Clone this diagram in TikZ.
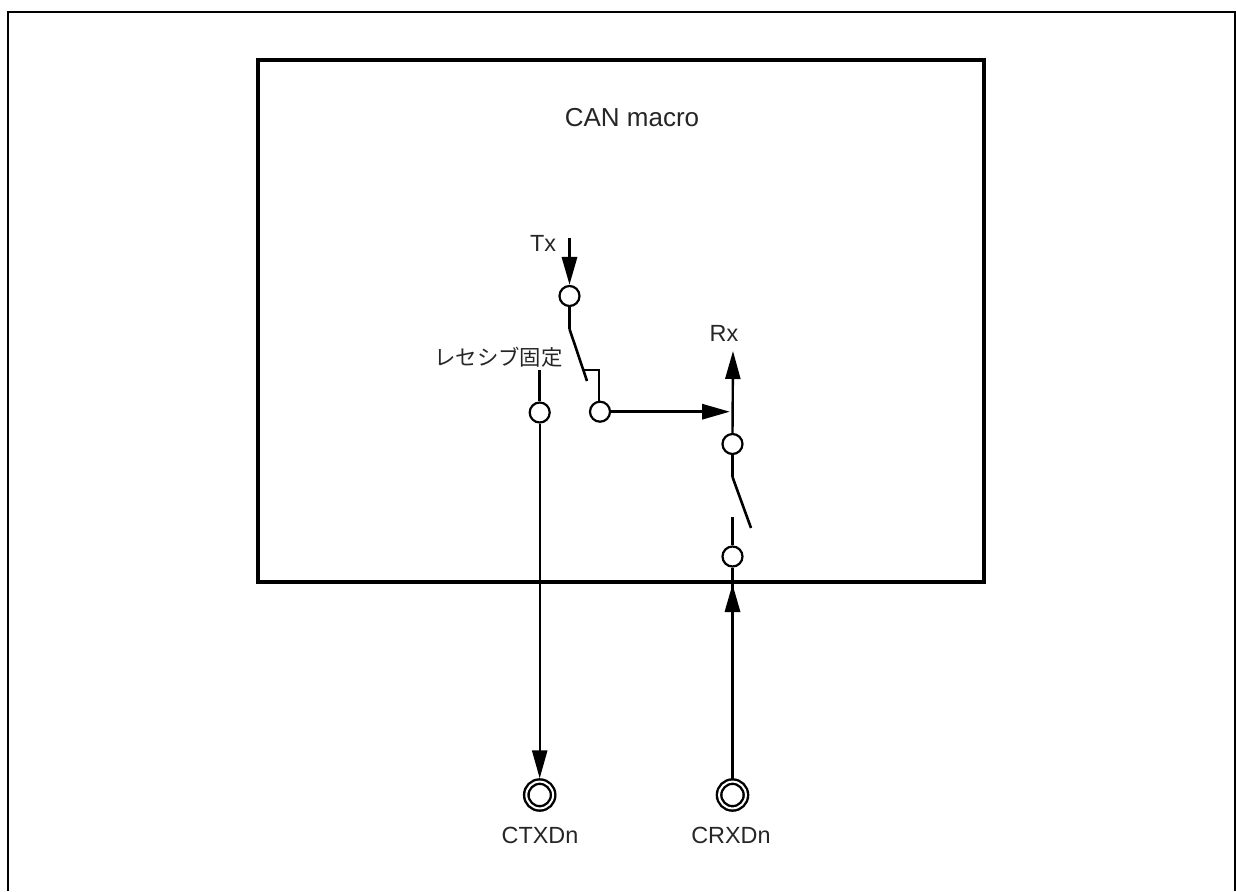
\documentclass[tikz,border=0pt]{standalone}
\usepackage{fontspec}
\setmainfont{Liberation Sans}
\newfontfamily\cjk{Noto Sans CJK JP}
\usetikzlibrary{arrows.meta}
\tikzset{
  x=0.5pt,y=-0.5pt,
  lab/.style={inner sep=0pt,font=\fontsize{11.7pt}{14pt}\selectfont,text=black!85},
  port/.style={circle,draw=black,line width=1.1pt,fill=white,inner sep=0pt,minimum size=10pt},
  pin/.style={circle,draw=black,double=white,double distance=1pt,line width=1.2pt,fill=white,inner sep=0pt,minimum size=13.4pt},
  thickw/.style={line width=1.6pt},
  thinw/.style={line width=1.2pt},
  arr/.style={-{Triangle[length=14pt,width=7.5pt]}},
}
\begin{document}
\begin{tikzpicture}
\useasboundingbox (0,0) rectangle (1236,891);
\coordinate (fa) at (8,891); \coordinate (fb) at (8,12);
\coordinate (fc) at (1235,12); \coordinate (fd) at (1235,891);
\draw[line width=1.1pt] (fa) -- (fb) -- (fc) -- (fd);
\node[draw=black,line width=2.1pt,inner sep=0pt,minimum width=363pt,minimum height=261pt] (macro) at (621,320.7) {};
\node[lab,font=\fontsize{13pt}{15pt}\selectfont] (title) at (632,118) {CAN macro};
\node[lab] (txl) at (543,243) {Tx};
\node[lab] (rxl) at (724,333) {Rx};
\node[lab,anchor=east,font=\cjk\fontsize{10.7pt}{13pt}\selectfont] (recl) at (563,357) {レセシブ固定};
\node[lab] (ctl) at (540,835) {CTXDn};
\node[lab] (crl) at (731,835) {CRXDn};
\coordinate (txs) at (569.5,238);
\coordinate (sw1a) at (569.5,329);
\coordinate (sw1b) at (587,381);
\coordinate (sw1m) at (582,370);
\coordinate (sw1n) at (599,370);
\coordinate (recs) at (539.7,370);
\coordinate (rxtop) at (733,351);
\coordinate (sw2a) at (732.5,477);
\coordinate (sw2b) at (751,528);
\coordinate (sw2s) at (732.5,517);
\coordinate (jn) at (730,411.7);
\coordinate (crtip) at (732.5,584);
\node[port] (ptx) at (569.5,296) {};
\node[port] (prec) at (539.7,412.5) {};
\node[port] (psel) at (600,411.7) {};
\node[port] (prx) at (732.5,444) {};
\node[port] (pcr) at (732.5,556.5) {};
\node[pin] (pinct) at (539.7,795) {};
\node[pin] (pincr) at (732.5,795) {};
\draw[thickw] (ptx.south) -- (sw1a);
\draw[line width=1.3pt] (sw1a) -- (sw1b);
\draw[line width=0.7pt] (sw1m) -- (sw1n) -- (psel.north -| sw1n);
\draw[thickw] (recs) -- (prec.north);
\draw[thickw] (pcr.north) -- (sw2s);
\draw[thickw] (prx.south) -- (sw2a);
\draw[line width=1.3pt] (sw2a) -- (sw2b);
\draw[thickw] (pincr.north) -- (pcr.south);
\draw[arr,thickw] (txs) -- (ptx.north);
\draw[arr,thinw] (prec.south) -- ([yshift=1pt]pinct.north);
\draw[arr,thickw] (psel.east) -- (jn);
\draw[arr,thinw] (prx.north) -- (rxtop);
\draw[arr,thickw] (pincr.north) -- (crtip);
\end{tikzpicture}
\end{document}
